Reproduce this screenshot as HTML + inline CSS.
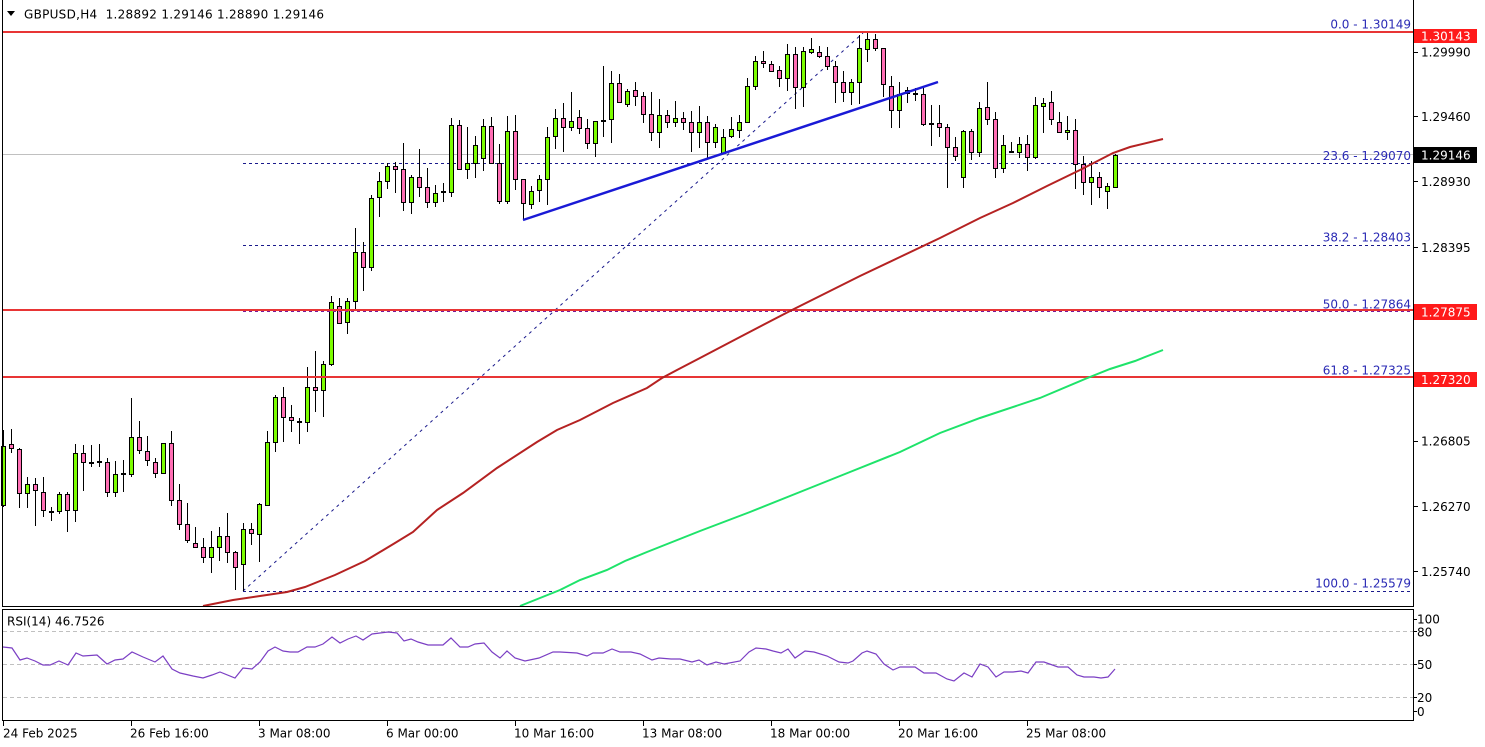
<!DOCTYPE html>
<html><head><meta charset="utf-8"><style>
html,body{margin:0;padding:0;background:#fff;}
svg{display:block;}
text{font-family:"DejaVu Sans","Liberation Sans",sans-serif;font-size:12px;}
</style></head><body>
<svg width="1485" height="747" viewBox="0 0 1485 747" xmlns="http://www.w3.org/2000/svg">
<rect width="1485" height="747" fill="#fff"/>
<!-- bid line -->
<line x1="2" y1="154.5" x2="1413" y2="154.5" stroke="#c0c0c0" stroke-width="1"/>
<!-- fib dashed lines -->
<g stroke="#1a1a8c" stroke-width="1" stroke-dasharray="3,3" fill="none">
<line x1="243" y1="32.5" x2="1413" y2="32.5"/>
<line x1="243" y1="163.5" x2="1413" y2="163.5"/>
<line x1="243" y1="245.5" x2="1413" y2="245.5"/>
<line x1="243" y1="591.5" x2="1413" y2="591.5"/>
<line x1="243" y1="591" x2="863" y2="33" stroke-dasharray="3,4"/>
</g>
<!-- wicks -->
<path fill="none" stroke="#000" stroke-width="1" d="M3.5 430V507M11.5 429V453M19.5 448V508M27.5 477V508M35.5 478V526M43.5 477V517M51.5 507V521M59.5 492V514M67.5 492V532M75.5 444V522M83.5 445V491M91.5 445V467M99.5 444V467M107.5 458V497M115.5 461V497M123.5 460V492M131.5 398V477M139.5 421V454M147.5 436V466M155.5 458V478M163.5 443V474M171.5 431V506M179.5 484V530M187.5 503V543M195.5 527V548M203.5 538V563M211.5 531V573M219.5 527V561M227.5 513V563M235.5 551V590M243.5 523V591M251.5 523V545M259.5 503V562M267.5 431V506M275.5 395V452M283.5 387V442M291.5 405V432M299.5 418V444M307.5 367V432M315.5 351V412M323.5 361V417M331.5 296V366M339.5 298V324M347.5 298V334M355.5 228V309M363.5 242V291M371.5 195V271M379.5 172V217M387.5 163V189M395.5 162V193M403.5 143V211M411.5 175V214M419.5 149V197M427.5 168V208M435.5 185V207M443.5 183V202M451.5 118V197M459.5 120V169M467.5 127V179M475.5 136V178M483.5 119V171M491.5 117V163M499.5 144V204M507.5 116V204M515.5 115V190M523.5 179V220M531.5 186V209M539.5 175V202M547.5 127V205M555.5 109V149M563.5 103V152M571.5 92V131M579.5 110V134M587.5 119V149M595.5 121V157M603.5 66V137M611.5 71V143M619.5 74V102M627.5 89V107M635.5 82V106M643.5 92V123M651.5 92V141M659.5 99V148M667.5 110V128M675.5 101V127M683.5 112V130M691.5 111V152M699.5 106V148M707.5 116V158M715.5 124V148M723.5 129V154M731.5 117V138M739.5 115V138M747.5 78V123M755.5 56V90M763.5 51V68M771.5 61V72M779.5 66V87M787.5 44V91M795.5 47V109M803.5 47V107M811.5 38V54M819.5 46V58M827.5 47V70M835.5 61V103M843.5 71V102M851.5 79V105M859.5 35V104M867.5 33V62M875.5 34V51M883.5 48V97M891.5 76V128M899.5 82V128M907.5 87V103M915.5 88V101M923.5 88V126M931.5 105V146M939.5 105V137M947.5 124V188M955.5 137V161M963.5 130V188M971.5 129V160M979.5 102V157M987.5 82V125M995.5 112V178M1003.5 135V173M1011.5 142V153M1019.5 137V158M1027.5 135V171M1035.5 97V159M1043.5 98V133M1051.5 91V125M1059.5 112V133M1067.5 116V140M1075.5 119V189M1083.5 156V195M1091.5 161V205M1099.5 172V198M1107.5 183V209M1115.5 154V187"/>
<!-- dojis -->
<path fill="none" stroke="#000" stroke-width="2" d="M49 512H54M89 463H94M97 462H102M121 474H126M297 422H302M441 192H446M601 121H606M913 94H918M929 124H934M1009 152H1014"/>
<!-- green bodies -->
<g fill="#7cfc00" stroke="#000" stroke-width="1">
<rect x="1.5" y="446.5" width="4" height="59"/>
<rect x="25.5" y="484.5" width="4" height="9"/>
<rect x="57.5" y="494.5" width="4" height="17"/>
<rect x="73.5" y="453.5" width="4" height="57"/>
<rect x="113.5" y="474.5" width="4" height="18"/>
<rect x="129.5" y="437.5" width="4" height="37"/>
<rect x="161.5" y="443.5" width="4" height="30"/>
<rect x="209.5" y="547.5" width="4" height="10"/>
<rect x="217.5" y="536.5" width="4" height="11"/>
<rect x="241.5" y="529.5" width="4" height="35"/>
<rect x="257.5" y="504.5" width="4" height="30"/>
<rect x="265.5" y="442.5" width="4" height="63"/>
<rect x="273.5" y="397.5" width="4" height="45"/>
<rect x="305.5" y="387.5" width="4" height="35"/>
<rect x="321.5" y="364.5" width="4" height="26"/>
<rect x="329.5" y="302.5" width="4" height="62"/>
<rect x="345.5" y="301.5" width="4" height="21"/>
<rect x="353.5" y="252.5" width="4" height="49"/>
<rect x="369.5" y="198.5" width="4" height="69"/>
<rect x="377.5" y="181.5" width="4" height="16"/>
<rect x="385.5" y="166.5" width="4" height="15"/>
<rect x="409.5" y="177.5" width="4" height="25"/>
<rect x="433.5" y="193.5" width="4" height="9"/>
<rect x="449.5" y="125.5" width="4" height="67"/>
<rect x="465.5" y="163.5" width="4" height="6"/>
<rect x="473.5" y="145.5" width="4" height="18"/>
<rect x="481.5" y="126.5" width="4" height="32"/>
<rect x="505.5" y="131.5" width="4" height="70"/>
<rect x="529.5" y="191.5" width="4" height="13"/>
<rect x="537.5" y="179.5" width="4" height="11"/>
<rect x="545.5" y="137.5" width="4" height="42"/>
<rect x="553.5" y="118.5" width="4" height="18"/>
<rect x="569.5" y="121.5" width="4" height="6"/>
<rect x="593.5" y="121.5" width="4" height="22"/>
<rect x="609.5" y="83.5" width="4" height="36"/>
<rect x="625.5" y="91.5" width="4" height="13"/>
<rect x="657.5" y="115.5" width="4" height="17"/>
<rect x="673.5" y="118.5" width="4" height="4"/>
<rect x="697.5" y="122.5" width="4" height="10"/>
<rect x="713.5" y="127.5" width="4" height="15"/>
<rect x="721.5" y="137.5" width="4" height="16"/>
<rect x="729.5" y="129.5" width="4" height="7"/>
<rect x="737.5" y="122.5" width="4" height="8"/>
<rect x="745.5" y="86.5" width="4" height="36"/>
<rect x="753.5" y="61.5" width="4" height="25"/>
<rect x="785.5" y="54.5" width="4" height="24"/>
<rect x="801.5" y="51.5" width="4" height="36"/>
<rect x="809.5" y="49.5" width="4" height="3"/>
<rect x="849.5" y="82.5" width="4" height="10"/>
<rect x="857.5" y="48.5" width="4" height="34"/>
<rect x="865.5" y="39.5" width="4" height="10"/>
<rect x="897.5" y="94.5" width="4" height="16"/>
<rect x="905.5" y="90.5" width="4" height="3"/>
<rect x="961.5" y="131.5" width="4" height="46"/>
<rect x="977.5" y="108.5" width="4" height="44"/>
<rect x="1001.5" y="145.5" width="4" height="23"/>
<rect x="1017.5" y="144.5" width="4" height="8"/>
<rect x="1033.5" y="105.5" width="4" height="52"/>
<rect x="1041.5" y="103.5" width="4" height="3"/>
<rect x="1065.5" y="130.5" width="4" height="2"/>
<rect x="1089.5" y="177.5" width="4" height="5"/>
<rect x="1105.5" y="186.5" width="4" height="5"/>
<rect x="1113.5" y="155.5" width="4" height="32"/>
</g>
<!-- pink bodies -->
<g fill="#ff6eb4" stroke="#000" stroke-width="1">
<rect x="9.5" y="444.5" width="4" height="4"/>
<rect x="17.5" y="449.5" width="4" height="44"/>
<rect x="33.5" y="484.5" width="4" height="6"/>
<rect x="41.5" y="492.5" width="4" height="18"/>
<rect x="65.5" y="494.5" width="4" height="16"/>
<rect x="81.5" y="453.5" width="4" height="9"/>
<rect x="105.5" y="462.5" width="4" height="30"/>
<rect x="137.5" y="437.5" width="4" height="13"/>
<rect x="145.5" y="451.5" width="4" height="9"/>
<rect x="153.5" y="462.5" width="4" height="11"/>
<rect x="169.5" y="443.5" width="4" height="57"/>
<rect x="177.5" y="500.5" width="4" height="24"/>
<rect x="185.5" y="524.5" width="4" height="16"/>
<rect x="193.5" y="543.5" width="4" height="4"/>
<rect x="201.5" y="547.5" width="4" height="10"/>
<rect x="225.5" y="536.5" width="4" height="16"/>
<rect x="233.5" y="552.5" width="4" height="15"/>
<rect x="249.5" y="529.5" width="4" height="4"/>
<rect x="281.5" y="397.5" width="4" height="20"/>
<rect x="289.5" y="417.5" width="4" height="3"/>
<rect x="313.5" y="387.5" width="4" height="3"/>
<rect x="337.5" y="306.5" width="4" height="17"/>
<rect x="361.5" y="252.5" width="4" height="15"/>
<rect x="393.5" y="166.5" width="4" height="3"/>
<rect x="401.5" y="169.5" width="4" height="33"/>
<rect x="417.5" y="177.5" width="4" height="10"/>
<rect x="425.5" y="187.5" width="4" height="15"/>
<rect x="457.5" y="125.5" width="4" height="44"/>
<rect x="489.5" y="126.5" width="4" height="37"/>
<rect x="497.5" y="163.5" width="4" height="38"/>
<rect x="513.5" y="131.5" width="4" height="48"/>
<rect x="521.5" y="179.5" width="4" height="24"/>
<rect x="561.5" y="118.5" width="4" height="9"/>
<rect x="577.5" y="117.5" width="4" height="11"/>
<rect x="585.5" y="128.5" width="4" height="15"/>
<rect x="617.5" y="83.5" width="4" height="19"/>
<rect x="633.5" y="90.5" width="4" height="6"/>
<rect x="641.5" y="96.5" width="4" height="18"/>
<rect x="649.5" y="114.5" width="4" height="18"/>
<rect x="665.5" y="115.5" width="4" height="7"/>
<rect x="681.5" y="118.5" width="4" height="4"/>
<rect x="689.5" y="122.5" width="4" height="10"/>
<rect x="705.5" y="122.5" width="4" height="20"/>
<rect x="761.5" y="61.5" width="4" height="2"/>
<rect x="769.5" y="64.5" width="4" height="7"/>
<rect x="777.5" y="70.5" width="4" height="8"/>
<rect x="793.5" y="54.5" width="4" height="33"/>
<rect x="817.5" y="52.5" width="4" height="4"/>
<rect x="825.5" y="56.5" width="4" height="10"/>
<rect x="833.5" y="66.5" width="4" height="16"/>
<rect x="841.5" y="82.5" width="4" height="10"/>
<rect x="873.5" y="39.5" width="4" height="9"/>
<rect x="881.5" y="48.5" width="4" height="36"/>
<rect x="889.5" y="86.5" width="4" height="24"/>
<rect x="921.5" y="94.5" width="4" height="30"/>
<rect x="937.5" y="123.5" width="4" height="4"/>
<rect x="945.5" y="127.5" width="4" height="20"/>
<rect x="953.5" y="147.5" width="4" height="9"/>
<rect x="969.5" y="131.5" width="4" height="21"/>
<rect x="985.5" y="107.5" width="4" height="12"/>
<rect x="993.5" y="119.5" width="4" height="49"/>
<rect x="1025.5" y="144.5" width="4" height="13"/>
<rect x="1049.5" y="102.5" width="4" height="17"/>
<rect x="1057.5" y="122.5" width="4" height="10"/>
<rect x="1073.5" y="130.5" width="4" height="34"/>
<rect x="1081.5" y="164.5" width="4" height="18"/>
<rect x="1097.5" y="177.5" width="4" height="10"/>
</g>
<!-- red horizontal lines -->
<g stroke="#e83535" stroke-width="2">
<line x1="2" y1="32" x2="1413" y2="32"/>
<line x1="2" y1="310" x2="1413" y2="310"/>
<line x1="2" y1="377" x2="1413" y2="377"/>
</g>
<line x1="243" y1="311.5" x2="1413" y2="311.5" stroke="#7a1a9a" stroke-width="1" stroke-dasharray="3,3"/>
<!-- moving averages -->
<path fill="none" stroke="#b52222" stroke-width="2" d="M203 606L233 600L260 596L287 592L305 587L320 581L335 575L350 568L365 561L380 552L395 543L413 532L437 510L463 493L497 468L537 442L557 430L580 420L613 403L647 388L662 378L677 370L700 358L740 337L790 311L820 296L860 276L900 257L940 238L980 218L1013 203L1047 186L1080 170L1113 153L1130 147L1163 139"/>
<path fill="none" stroke="#1ee36a" stroke-width="2" d="M520 606L540 598L560 590L580 580L607 570L625 561L647 552L700 531L750 512L800 492L850 472L900 452L940 433L980 418L1040 398L1085 379L1110 369L1135 361L1163 350"/>
<!-- blue trendline -->
<line x1="523" y1="220" x2="938" y2="82" stroke="#1a1ad6" stroke-width="2.5"/>
<!-- fib labels -->
<g fill="#2b2bb5" text-anchor="end">
<text x="1411" y="28.5">0.0 - 1.30149</text>
<text x="1411" y="160">23.6 - 1.29070</text>
<text x="1411" y="241.5">38.2 - 1.28403</text>
<text x="1411" y="308.5">50.0 - 1.27864</text>
<text x="1411" y="374.5">61.8 - 1.27325</text>
<text x="1411" y="587.5">100.0 - 1.25579</text>
</g>
<!-- frames -->
<g stroke="#000" stroke-width="1" fill="none">
<line x1="2.5" y1="0" x2="2.5" y2="607"/>
<line x1="2" y1="606.5" x2="1414" y2="606.5"/>
<line x1="1413.5" y1="0" x2="1413.5" y2="607"/>
<rect x="2.5" y="609.5" width="1411" height="111"/>
<path d="M1413 52.5H1418M1413 116.5H1418M1413 181.5H1418M1413 247.5H1418M1413 441.5H1418M1413 506.5H1418M1413 571.5H1418M1413 619.5H1417M1413 631.5H1417M1413 664.5H1417M1413 697.5H1417M1413 711.5H1417"/>
<path d="M3.5 721V726M131.5 721V726M259.5 721V726M387.5 721V726M515.5 721V726M643.5 721V726M771.5 721V726M899.5 721V726M1027.5 721V726"/>
</g>
<!-- axis labels -->
<g fill="#000">
<text x="1421" y="56.5">1.29990</text>
<text x="1421" y="121">1.29460</text>
<text x="1421" y="186">1.28930</text>
<text x="1421" y="252">1.28395</text>
<text x="1421" y="445.5">1.26805</text>
<text x="1421" y="511">1.26270</text>
<text x="1421" y="576">1.25740</text>
</g>
<rect x="1414" y="29" width="63" height="14" fill="#ff1a1a"/>
<text x="1421" y="40.5" fill="#fff">1.30143</text>
<rect x="1414" y="147" width="63" height="16" fill="#000"/>
<text x="1421" y="159.5" fill="#fff">1.29146</text>
<rect x="1414" y="304" width="63" height="16" fill="#ff1a1a"/>
<text x="1421" y="316.5" fill="#fff">1.27875</text>
<rect x="1414" y="372" width="63" height="15" fill="#ff1a1a"/>
<text x="1421" y="384" fill="#fff">1.27320</text>
<!-- title -->
<path d="M7 11H15L11 16Z" fill="#000"/>
<text x="24" y="18.5" fill="#000" style="white-space:pre" xml:space="preserve" textLength="300" lengthAdjust="spacing">GBPUSD,H4  1.28892 1.29146 1.28890 1.29146</text>
<!-- RSI panel -->
<g stroke="#c0c0c0" stroke-width="1" stroke-dasharray="4,3">
<line x1="3" y1="631.5" x2="1413" y2="631.5"/>
<line x1="3" y1="664.5" x2="1413" y2="664.5"/>
<line x1="3" y1="697.5" x2="1413" y2="697.5"/>
</g>
<polyline fill="none" stroke="#7b3fc4" stroke-width="1.2" points="3,647 12,648 20,660 27,658 35,661 43,665 50,665 59,661 68,665 76,653 83,656 97,655 107,664 115,660 123,659 132,652 143,657 155,662 163,656 172,669 180,673 193,676 203,678 212,675 220,672 235,678 243,668 252,669 260,662 268,651 275,647 283,651 290,652 298,652 307,647 315,647 323,644 332,637 340,643 348,639 356,636 363,640 372,634 380,633 388,632 397,633 404,641 411,639 418,642 428,645 443,645 451,638 460,647 468,647 475,644 484,643 492,652 500,658 507,651 515,658 525,661 539,658 553,652 560,652 577,653 587,656 593,653 603,653 612,649 620,652 631,652 640,654 652,660 659,658 671,659 680,659 692,662 699,660 707,665 716,662 724,664 740,661 749,652 756,648 766,649 773,651 781,653 788,649 795,658 805,651 814,652 827,656 839,662 848,663 853,661 862,653 867,651 876,654 884,664 893,670 900,667 915,667 924,673 936,673 947,679 954,681 964,673 972,677 980,664 988,667 996,677 1004,672 1013,672 1021,671 1028,673 1036,662 1044,662 1058,667 1068,667 1077,675 1084,677 1094,677 1101,678 1108,677 1115,669"/>
<text x="7" y="625.5" fill="#000">RSI(14) 46.7526</text>
<g fill="#000">
<text x="1417" y="623.5">100</text>
<text x="1417" y="636.5">80</text>
<text x="1417" y="669">50</text>
<text x="1417" y="702">20</text>
<text x="1417" y="716">0</text>
</g>
<!-- date labels -->
<g fill="#000">
<text x="3" y="737.5">24 Feb 2025</text>
<text x="130" y="737.5">26 Feb 16:00</text>
<text x="258" y="737.5">3 Mar 08:00</text>
<text x="386" y="737.5">6 Mar 00:00</text>
<text x="514" y="737.5">10 Mar 16:00</text>
<text x="642" y="737.5">13 Mar 08:00</text>
<text x="770" y="737.5">18 Mar 00:00</text>
<text x="898" y="737.5">20 Mar 16:00</text>
<text x="1026" y="737.5">25 Mar 08:00</text>
</g>
</svg>
</body></html>
